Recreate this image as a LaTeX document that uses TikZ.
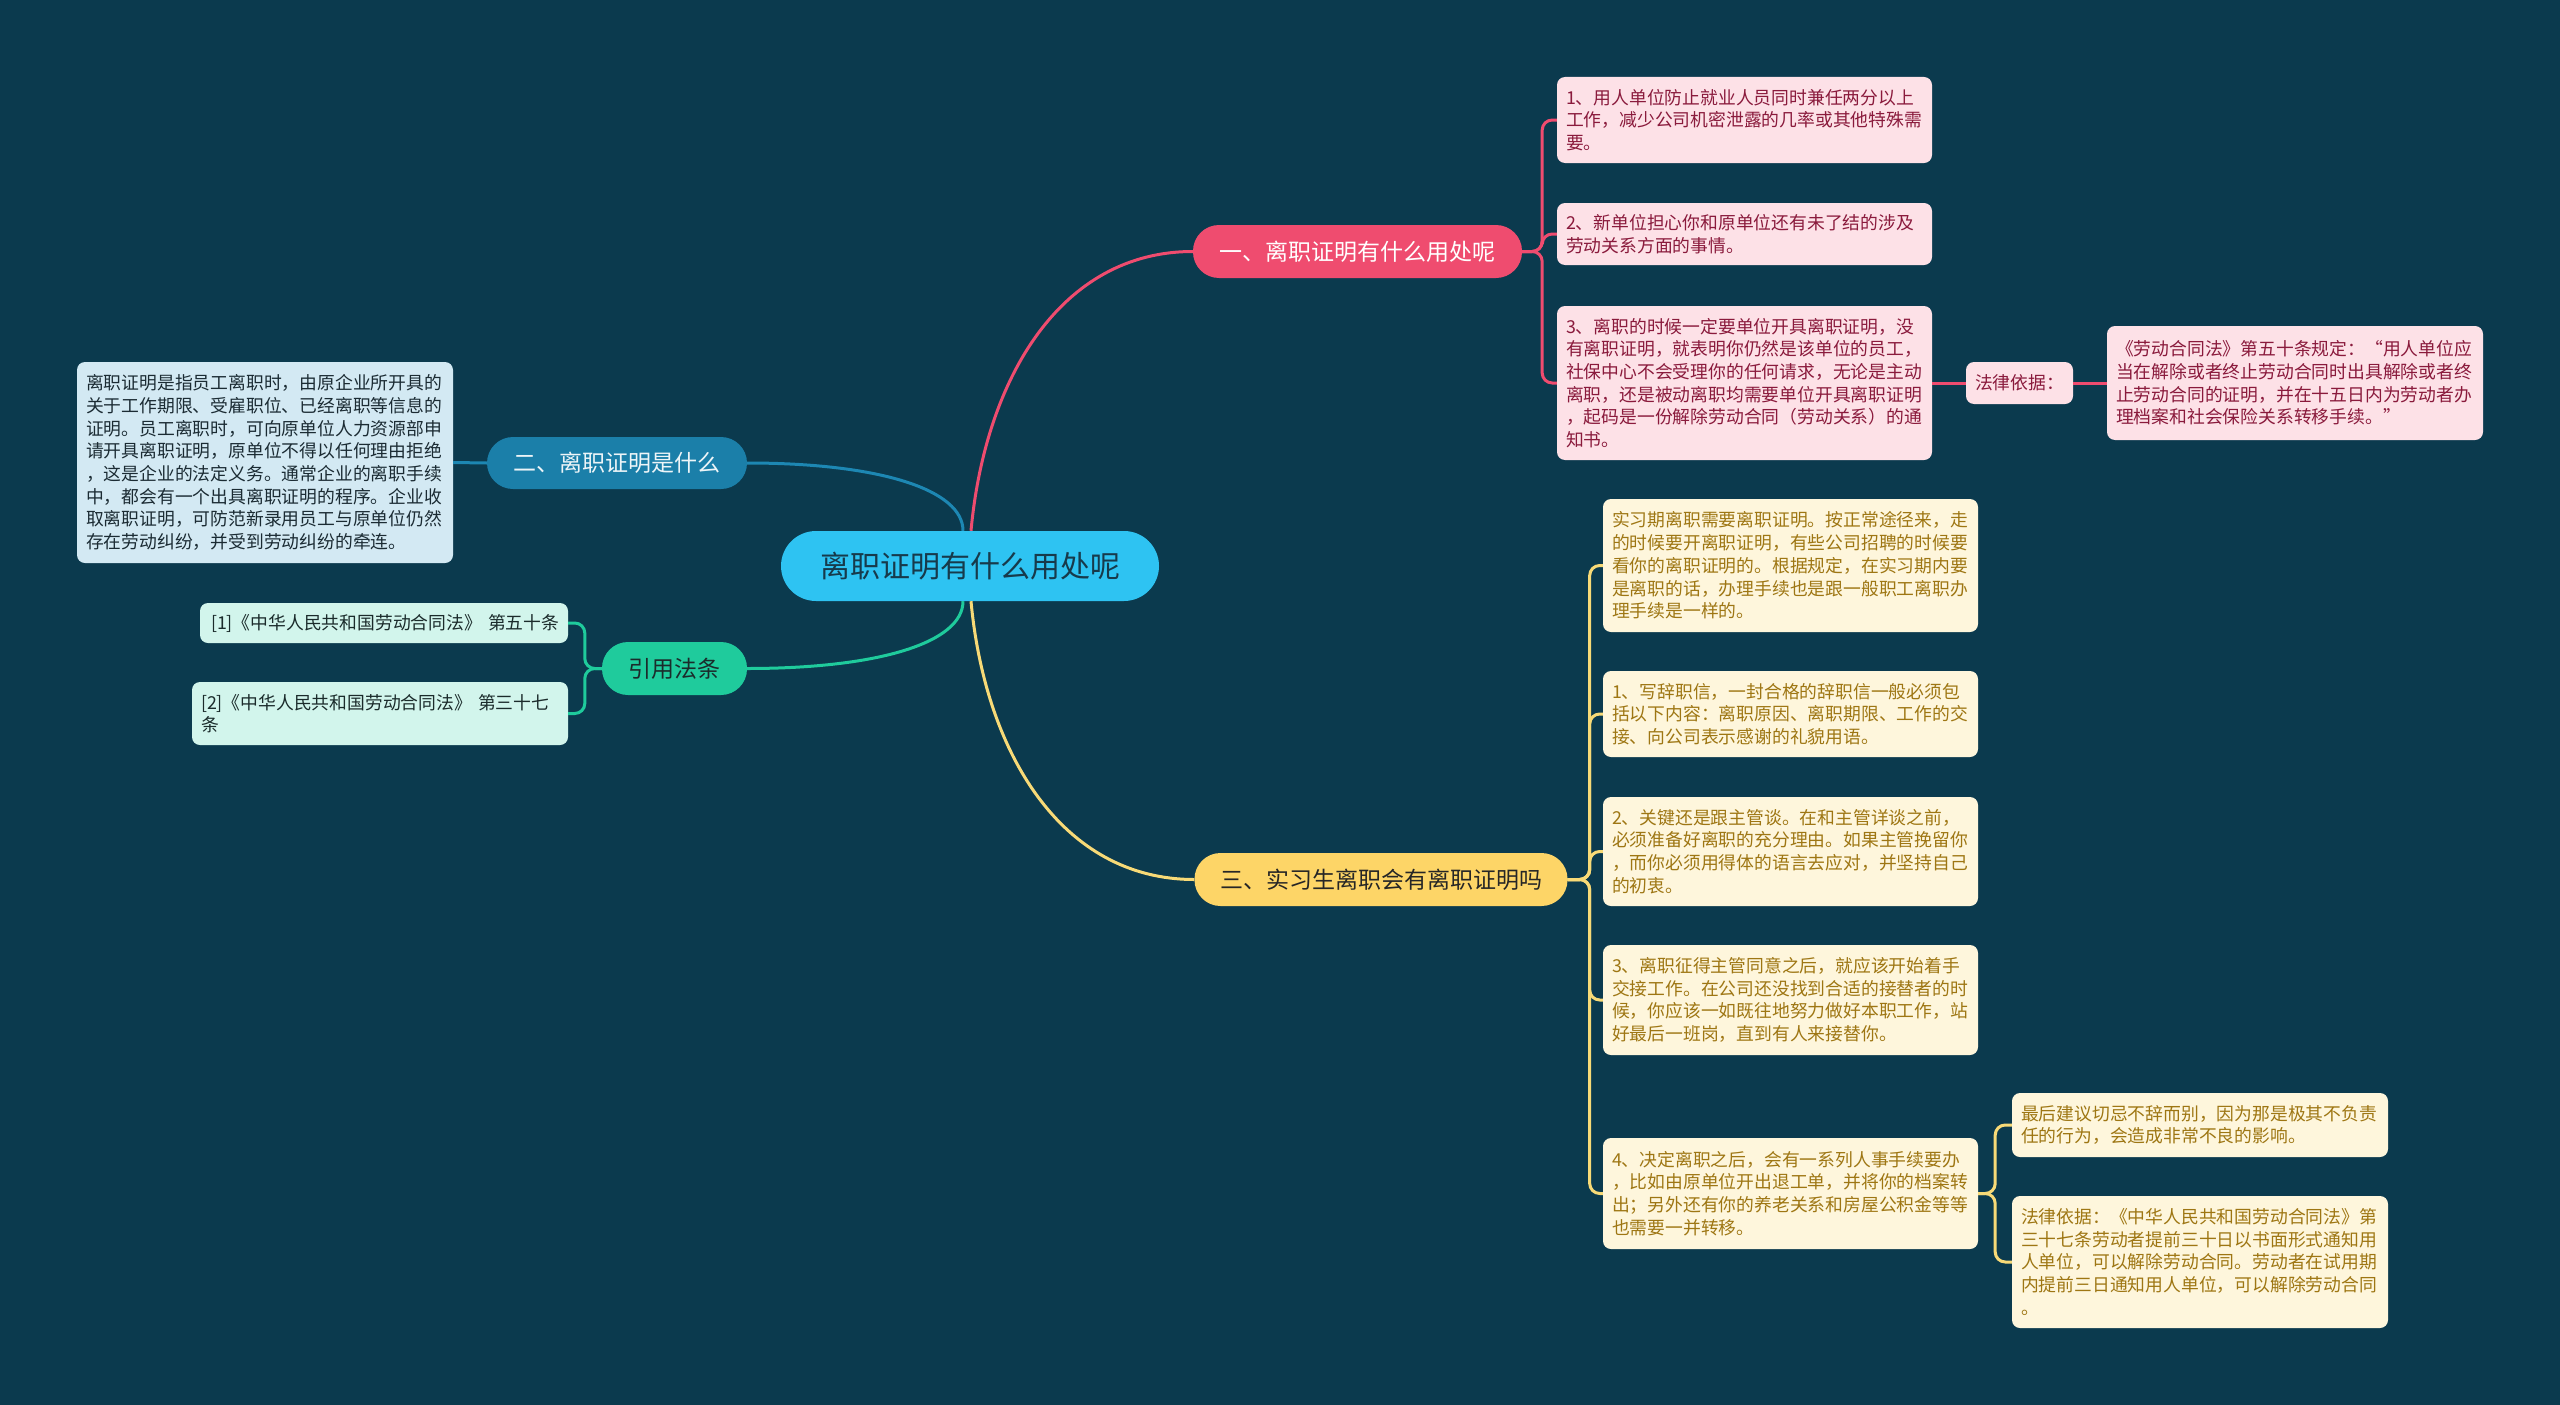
\documentclass[tikz,border=0pt]{standalone}
\usepackage{fontspec}
\setmainfont{Noto Sans CJK SC}
\usetikzlibrary{calc}
\definecolor{bg}{HTML}{0B3A4E}
\definecolor{centerfill}{HTML}{2EC3F2}
\definecolor{centertext}{HTML}{173A4B}
\definecolor{pinkc}{HTML}{EF4C6F}
\definecolor{pinkfill}{HTML}{FDE1E7}
\definecolor{pinktext}{HTML}{8A1A3C}
\definecolor{bluec}{HTML}{1B7FA9}
\definecolor{blueline}{HTML}{1D87B3}
\definecolor{bluefill}{HTML}{D3E9F3}
\definecolor{bluetext}{HTML}{1B2B33}
\definecolor{greenc}{HTML}{1FCB9C}
\definecolor{greenfill}{HTML}{D2F5EC}
\definecolor{greentext}{HTML}{1B2B2B}
\definecolor{yellowc}{HTML}{FDD567}
\definecolor{yellowline}{HTML}{F8DA77}
\definecolor{creamfill}{HTML}{FEF6DC}
\definecolor{creamtext}{HTML}{9E7613}
\tikzset{
  leafbox/.style={rounded corners=8pt, inner xsep=9pt, inner ysep=0pt, align=left,
    font=\fontsize{17.8}{22.7}\selectfont},
  pinkleaf/.style={leafbox, fill=pinkfill, text=pinktext},
  blueleaf/.style={leafbox, fill=bluefill, text=bluetext},
  greenleaf/.style={leafbox, fill=greenfill, text=greentext},
  creamleaf/.style={leafbox, fill=creamfill, text=creamtext},
  branchbox/.style={rounded corners=26pt, inner sep=0pt, align=center,
    font=\fontsize{23}{28}\selectfont},
  conn/.style={line width=3pt, rounded corners=10pt},
  mainconn/.style={line width=3pt},
}
\begin{document}
\begin{tikzpicture}[x=1pt,y=-1pt]
\useasboundingbox (0,0) rectangle (2560,1405);
\fill[bg] (0,0) rectangle (2560,1405);

% center
\node[fill=centerfill, text=centertext, rounded corners=35pt, minimum width=378pt, minimum height=70pt, inner sep=0pt,
  font=\fontsize{30}{36}\selectfont] (c) at (970,566) {离职证明有什么用处呢};

% main branches
\node[branchbox, fill=pinkc, text=white, minimum width=329pt, minimum height=53pt] (b1) at (1357.5,251.5) {一、离职证明有什么用处呢};
\node[branchbox, fill=bluec, text=white!92!bluec, minimum width=260pt, minimum height=52pt] (b2) at (617,463) {二、离职证明是什么};
\node[branchbox, fill=greenc, text=greentext, minimum width=145pt, minimum height=53pt] (rf) at (674.5,668.5) {引用法条};
\node[branchbox, fill=yellowc, text=black!85, minimum width=373pt, minimum height=53pt] (b3) at (1381,879.5) {三、实习生离职会有离职证明吗};

% branch 1 leaves
\node[pinkleaf, text width=357pt, minimum height=86pt] (l1a) at (1744.5,120) {1、用人单位防止就业人员同时兼任两分以上\\工作，减少公司机密泄露的几率或其他特殊需\\要。};
\node[pinkleaf, text width=357pt, minimum height=62pt] (l1b) at (1744.5,234) {2、新单位担心你和原单位还有未了结的涉及\\劳动关系方面的事情。};
\node[pinkleaf, text width=357pt, minimum height=154pt] (l1c) at (1744.5,383) {3、离职的时候一定要单位开具离职证明，没\\有离职证明，就表明你仍然是该单位的员工，\\社保中心不会受理你的任何请求，无论是主动\\离职，还是被动离职均需要单位开具离职证明\\，起码是一份解除劳动合同（劳动关系）的通\\知书。};
\node[pinkleaf, minimum width=107pt, minimum height=42pt, inner xsep=0pt, align=center] (law) at (2019.5,383) {法律依据：};
\node[pinkleaf, text width=358pt, minimum height=114pt] (quote) at (2295,383) {《劳动合同法》第五十条规定：“用人单位应\\当在解除或者终止劳动合同时出具解除或者终\\止劳动合同的证明，并在十五日内为劳动者办\\理档案和社会保险关系转移手续。”};

% branch 2 leaf
\node[blueleaf, text width=358pt, minimum height=201pt] (d2) at (265,462.5) {离职证明是指员工离职时，由原企业所开具的\\关于工作期限、受雇职位、已经离职等信息的\\证明。员工离职时，可向原单位人力资源部申\\请开具离职证明，原单位不得以任何理由拒绝\\，这是企业的法定义务。通常企业的离职手续\\中，都会有一个出具离职证明的程序。企业收\\取离职证明，可防范新录用员工与原单位仍然\\存在劳动纠纷，并受到劳动纠纷的牵连。};

% references
\node[greenleaf, text width=346pt, minimum height=40pt, inner xsep=11pt] (r1) at (384,623) {[1]《中华人民共和国劳动合同法》~第五十条};
\node[greenleaf, text width=358pt, minimum height=63pt] (r2) at (380,713.5) {[2]《中华人民共和国劳动合同法》~第三十七\\条};

% branch 3 leaves
\node[creamleaf, text width=357pt, minimum height=133pt] (l3a) at (1790.5,565.5) {实习期离职需要离职证明。按正常途径来，走\\的时候要开离职证明，有些公司招聘的时候要\\看你的离职证明的。根据规定，在实习期内要\\是离职的话，办理手续也是跟一般职工离职办\\理手续是一样的。};
\node[creamleaf, text width=357pt, minimum height=86pt] (l3b) at (1790.5,714) {1、写辞职信，一封合格的辞职信一般必须包\\括以下内容：离职原因、离职期限、工作的交\\接、向公司表示感谢的礼貌用语。};
\node[creamleaf, text width=357pt, minimum height=109pt] (l3c) at (1790.5,851.5) {2、关键还是跟主管谈。在和主管详谈之前，\\必须准备好离职的充分理由。如果主管挽留你\\，而你必须用得体的语言去应对，并坚持自己\\的初衷。};
\node[creamleaf, text width=357pt, minimum height=110pt] (l3d) at (1790.5,1000) {3、离职征得主管同意之后，就应该开始着手\\交接工作。在公司还没找到合适的接替者的时\\候，你应该一如既往地努力做好本职工作，站\\好最后一班岗，直到有人来接替你。};
\node[creamleaf, text width=357pt, minimum height=111pt] (l3e) at (1790.5,1193.5) {4、决定离职之后，会有一系列人事手续要办\\，比如由原单位开出退工单，并将你的档案转\\出；另外还有你的养老关系和房屋公积金等等\\也需要一并转移。};
\node[creamleaf, text width=358pt, minimum height=64pt] (l3e1) at (2200,1125) {最后建议切忌不辞而别，因为那是极其不负责\\任的行为，会造成非常不良的影响。};
\node[creamleaf, text width=358pt, minimum height=132pt] (l3e2) at (2200,1262) {法律依据：《中华人民共和国劳动合同法》第\\三十七条劳动者提前三十日以书面形式通知用\\人单位，可以解除劳动合同。劳动者在试用期\\内提前三日通知用人单位，可以解除劳动合同\\。};

% main connectors
\draw[mainconn, pinkc] ($(c.north)+(1,0)$) .. controls ($(c.north)+(15,-151)$) and ($(b1.west)+(-133,0)$) .. (b1.west);
\draw[mainconn, yellowline] ($(c.south)+(1,0)$) .. controls ($(c.south)+(15,151)$) and ($(b3.west)+(-133,0)$) .. (b3.west);
\draw[mainconn, blueline] ($(c.north)+(-7,0)$) .. controls ($(c.north)+(-7,-41)$) and ($(b2.east)+(133,0)$) .. (b2.east);
\draw[mainconn, greenc] ($(c.south)+(-7,0)$) .. controls ($(c.south)+(-7,41)$) and ($(rf.east)+(133,0)$) .. (rf.east);

% branch 1 connectors
\foreach \t in {l1a,l1b,l1c}
  \draw[conn, pinkc] (b1.east) -- ++(20,0) |- (\t.west);
\draw[conn, pinkc] (l1c.east) -- (law.west);
\draw[conn, pinkc] (law.east) -- (quote.west);

% branch 2 connector
\draw[conn, blueline] (b2.west) -- (d2.east);

% references connectors
\foreach \t in {r1,r2}
  \draw[conn, greenc] (rf.west) -- ++(-17,0) |- (\t.east);

% branch 3 connectors
\foreach \t in {l3a,l3b,l3c,l3d,l3e}
  \draw[conn, yellowline] (b3.east) -- ++(22,0) |- (\t.west);
\foreach \t in {l3e1,l3e2}
  \draw[conn, yellowline] (l3e.east) -- ++(17,0) |- (\t.west);
\end{tikzpicture}
\end{document}
